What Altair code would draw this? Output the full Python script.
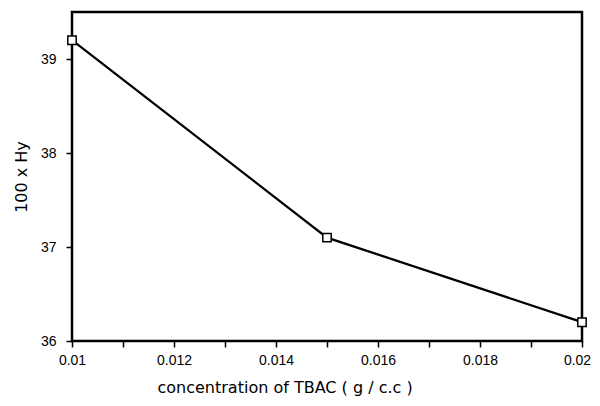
import altair as alt
import pandas as pd

conc = [0.01, 0.015, 0.02]
hy = [39.2, 37.1, 36.2]

x_ticks = [0.010, 0.011, 0.012, 0.013, 0.014, 0.015, 0.016, 0.017, 0.018, 0.019, 0.020]
y_ticks = [36, 36.5, 37, 37.5, 38, 38.5, 39, 39.5]

df = pd.DataFrame({"conc": conc, "hy": hy})

FONT = "Liberation Sans"
TFONT = "DejaVu Sans"

base = alt.Chart(df).encode(
    x=alt.X("conc:Q",
            scale=alt.Scale(domain=[0.01, 0.02], nice=False, zero=False),
            axis=alt.Axis(values=x_ticks, format=".3~f",
                          labelExpr="(round(datum.value*1000) % 2 == 0) ? datum.label : ''",
                          title="concentration of  TBAC ( g / c.c )",
                          grid=False, tickSize=6, tickWidth=1.5, tickColor="black",
                          domain=False, labelPadding=6, labelFontSize=14,
                          labelFont=FONT, labelColor="black",
                          labelOffset={"condition": {"test": "datum.value > 0.0195", "value": -5}, "value": 0},
                          titleFont=TFONT, titleFontSize=16, titleFontWeight="normal",
                          titleColor="black", titlePadding=12, labelFlush=False,
                          titleAnchor="start", titleAlign="left", titleX=85)),
    y=alt.Y("hy:Q",
            scale=alt.Scale(domain=[36, 39.5], nice=False, zero=False),
            axis=alt.Axis(values=y_ticks, format="d",
                          labelExpr="(datum.value % 1 == 0) ? datum.label : ''",
                          title="100 x Hy",
                          grid=False, tickWidth=1.5, tickColor="black",
                          tickSize={"condition": {"test": "datum.value % 1 == 0", "value": 6}, "value": 4},
                          domain=False, labelPadding=10, labelFontSize=14,
                          labelFont=FONT, labelColor="black",
                          titleFont=TFONT, titleFontSize=16, titleFontWeight="normal",
                          titleColor="black", titlePadding=11, labelFlush=False)),
)

line = base.mark_line(color="black", strokeWidth=2.3)
pts = base.mark_point(shape="square", size=70, filled=True, fill="white",
                      stroke="black", strokeWidth=1.5, opacity=1)

chart = (line + pts).properties(
    width=510, height=329,
    background="white",
    autosize=alt.AutoSizeParams(type="none"),
    padding={"left": 64, "top": 4, "right": 10, "bottom": 60},
).configure_view(stroke="black", strokeWidth=2.5, strokeOpacity=1)

chart.save("out.html", embed_options={"renderer": "svg", "actions": False})
